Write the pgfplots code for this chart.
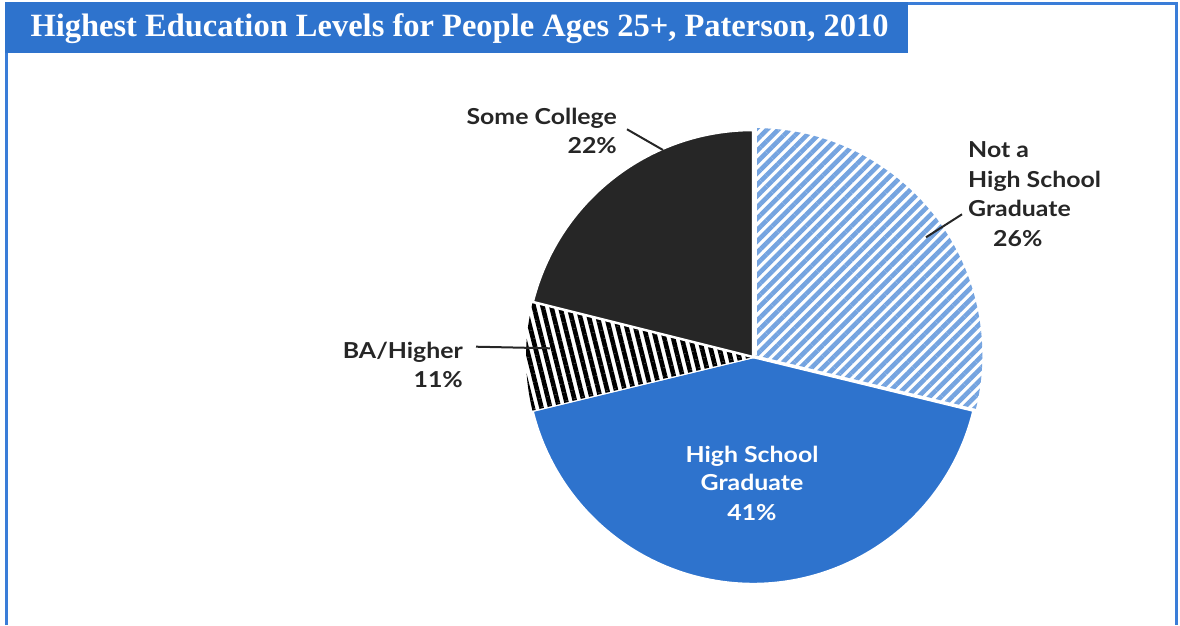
\documentclass[border=0pt]{standalone}
\usepackage{fontspec}
\setmainfont{Liberation Serif}
\newfontfamily\lab{Lato}[FakeStretch=1.13]
\usepackage{pgfplots}
\pgfplotsset{compat=1.18}
\usepackage{pgfplotstable}
\usetikzlibrary{patterns.meta}
\definecolor{hsblue}{HTML}{2E73CD}
\definecolor{frameblue}{HTML}{3A7DD8}
\definecolor{stripeblue}{HTML}{75A4E0}
\definecolor{darkslice}{HTML}{262626}
\definecolor{txt}{HTML}{262626}

% slice shares (percent of the full circle, clockwise from 12 o'clock)
\pgfplotstableread{
slice share
NotHS 28.8
HSGrad 42.4
BA 7.7
Some 21.1
}\piedata

\pgfplotstablegetelem{0}{share}\of\piedata \let\sA\pgfplotsretval
\pgfplotstablegetelem{1}{share}\of\piedata \let\sB\pgfplotsretval
\pgfplotstablegetelem{2}{share}\of\piedata \let\sC\pgfplotsretval
\pgfplotstablegetelem{3}{share}\of\piedata \let\sD\pgfplotsretval
\pgfmathsetmacro\aA{90}
\pgfmathsetmacro\aB{\aA-3.6*\sA}
\pgfmathsetmacro\aC{\aB-3.6*\sB}
\pgfmathsetmacro\aD{\aC-3.6*\sC}
\pgfmathsetmacro\aE{\aD-3.6*\sD}
\pgfmathsetmacro\mA{(\aA+\aB)/2}
\pgfmathsetmacro\exA{3*cos(\mA)}
\pgfmathsetmacro\eyA{3*sin(\mA)}

\begin{document}
\begin{tikzpicture}
\begin{axis}[name=ax,
  width=1180pt, height=625pt, scale only axis,
  xmin=0, xmax=1180, ymin=0, ymax=625,
  hide axis, clip=false]
% frame
\draw[frameblue, line width=3pt] (axis cs:6.5,0) -- (axis cs:6.5,621) -- (axis cs:1176,621) -- (axis cs:1176,0);
% title bar
\fill[hsblue] (axis cs:5,572) rectangle (axis cs:908,622.5);
\node[anchor=base west, text=white, font=\fontsize{32.5}{36}\selectfont\bfseries] at (axis cs:27,588) {Highest Education Levels for People Ages 25+, Paterson, 2010};
% pie slices
\path[fill=white, postaction={pattern={Lines[angle=45,distance=8pt,line width=4.6pt]}, pattern color=stripeblue}, draw=white, line width=2.5pt]
  (axis cs:753+\exA,268+\eyA) -- ++(\aA:227) arc[start angle=\aA, end angle=\aB, radius=227] -- cycle;
\path[fill=hsblue, draw=white, line width=2.5pt]
  (axis cs:753,268) -- ++(\aB:227) arc[start angle=\aB, end angle=\aC, radius=227] -- cycle;
\path[fill=white, postaction={pattern={Lines[angle=-76,distance=8.5pt,line width=4.6pt]}, pattern color=black}, draw=white, line width=2.5pt]
  (axis cs:753,268) -- ++(\aC:227) arc[start angle=\aC, end angle=\aD, radius=227] -- cycle;
\path[fill=darkslice, draw=white, line width=2.5pt]
  (axis cs:753,268) -- ++(\aD:227) arc[start angle=\aD, end angle=\aE, radius=227] -- cycle;
\draw[white, line width=2.5pt] (axis cs:753+\exA,268+\eyA) -- ++(\aA:227);
% leader lines
\draw[txt, line width=2pt] (axis cs:627,495.7) -- (axis cs:663,475);
\draw[txt, line width=2pt] (axis cs:926,387.7) -- (axis cs:962,410.7);
\draw[txt, line width=2pt] (axis cs:476,278.3) -- (axis cs:550,276.7);
% labels
\begin{scope}[every node/.style={font=\lab\fontsize{22}{26}\selectfont\bfseries, text=txt, inner sep=0pt}]
\node[anchor=base east] at (axis cs:617,500) {Some College};
\node[anchor=base east] at (axis cs:617,471) {22\%};
\node[anchor=base west] at (axis cs:968,467) {Not a};
\node[anchor=base west] at (axis cs:968,437) {High School};
\node[anchor=base west] at (axis cs:968,409) {Graduate};
\node[anchor=base west] at (axis cs:993,379) {26\%};
\node[anchor=base east] at (axis cs:463,267) {BA/Higher};
\node[anchor=base east] at (axis cs:463,238) {11\%};
\node[anchor=base, text=white] at (axis cs:752,163) {High School};
\node[anchor=base, text=white] at (axis cs:752,134.3) {Graduate};
\node[anchor=base, text=white] at (axis cs:752,105) {41\%};
\end{scope}
\end{axis}
\pgfresetboundingbox
\path[use as bounding box] (ax.south west) rectangle (ax.north east);
\end{tikzpicture}
\end{document}
